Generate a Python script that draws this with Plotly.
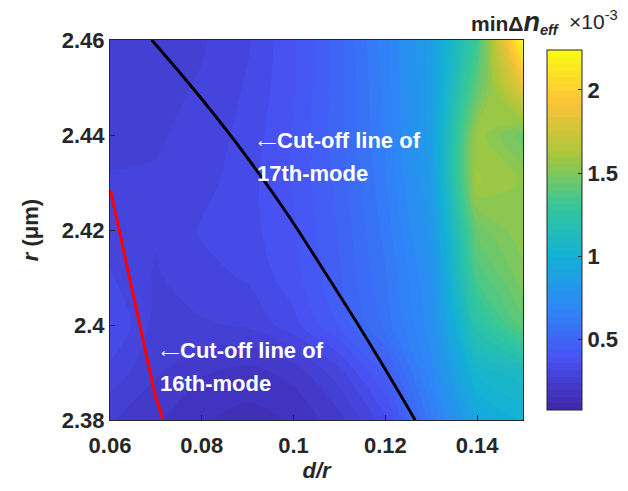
import plotly.graph_objects as go

# ---- data (values of min Δn_eff in units of 1e-3) ----
d_over_r = [0.06, 0.07, 0.08, 0.09, 0.10, 0.11, 0.12, 0.13, 0.14, 0.15]
r_um = [2.38, 2.39, 2.40, 2.41, 2.42, 2.43, 2.44, 2.45, 2.46]
min_dn = [
    [0.24, 0.20, 0.16, 0.14, 0.16, 0.22, 0.34, 0.62, 0.92, 1.00],  # 2.38
    [0.30, 0.24, 0.20, 0.18, 0.21, 0.30, 0.45, 0.70, 1.05, 1.10],  # 2.39
    [0.36, 0.26, 0.27, 0.28, 0.34, 0.44, 0.57, 0.74, 1.22, 1.42],  # 2.40
    [0.32, 0.27, 0.30, 0.32, 0.38, 0.47, 0.59, 0.76, 1.36, 1.50],  # 2.41
    [0.30, 0.28, 0.32, 0.34, 0.39, 0.48, 0.61, 0.80, 1.45, 1.55],  # 2.42
    [0.28, 0.28, 0.30, 0.34, 0.40, 0.49, 0.63, 0.84, 1.60, 1.55],  # 2.43
    [0.26, 0.27, 0.29, 0.33, 0.40, 0.50, 0.64, 0.86, 1.58, 1.45],  # 2.44
    [0.25, 0.26, 0.28, 0.32, 0.39, 0.50, 0.65, 0.86, 1.42, 1.85],  # 2.45
    [0.25, 0.25, 0.27, 0.31, 0.39, 0.50, 0.66, 0.86, 1.32, 2.24],  # 2.46
]

cut17_x = [0.0691, 0.0898, 0.1102, 0.1265]
cut17_y = [2.46, 2.4354, 2.406, 2.38]
cut16_x = [0.0601, 0.0698, 0.0716]
cut16_y = [2.4284, 2.3853, 2.38]

x_ticks = [0.06, 0.08, 0.10, 0.12, 0.14]
x_ticktext = ["0.06", "0.08", "0.1", "0.12", "0.14"]
y_ticks = [2.38, 2.40, 2.42, 2.44, 2.46]
y_ticktext = ["2.38", "2.4", "2.42", "2.44", "2.46"]
cb_ticks = [0.5, 1.0, 1.5, 2.0]
cb_ticktext = ["0.5", "1", "1.5", "2"]

parula = [
    [0.0, "#3e26a8"],
    [0.143, "#4852f4"],
    [0.286, "#2e87f7"],
    [0.429, "#12b1d6"],
    [0.571, "#37c897"],
    [0.714, "#abc739"],
    [0.857, "#fec338"],
    [1.0, "#f9fb15"],
]

FONT = "Liberation Sans, Arial, sans-serif"
DARK = "#262626"
ZMIN, ZMAX = 0.075, 2.24

# page has an 8px body margin: figure is 620x475, plot area at page x 110..523, y 40..420
PW = 413.0
FIG_W, FIG_H = 620, 475

fig = go.Figure()
fig.add_trace(go.Contour(
    x=d_over_r, y=r_um, z=min_dn,
    colorscale=parula, zauto=False, zmin=ZMIN, zmax=ZMAX,
    contours=dict(coloring="fill", start=ZMIN, end=ZMAX, size=0.04, showlines=False),
    line=dict(width=0),
    colorbar=dict(
        x=(537 - 110) / PW, xanchor="left", xref="paper",
        y=0.5, yanchor="middle", len=1.0, lenmode="fraction",
        thickness=35, outlinewidth=1, outlinecolor=DARK,
        tickvals=cb_ticks, ticktext=cb_ticktext,
        ticks="inside", ticklen=4, tickcolor=DARK,
        tickfont=dict(family=FONT, size=22, color=DARK, weight="bold"),
    ),
    showscale=True,
))
fig.add_trace(go.Scatter(x=cut17_x, y=cut17_y, mode="lines",
                         line=dict(color="black", width=3, shape="spline", smoothing=1.3),
                         showlegend=False))
fig.add_trace(go.Scatter(x=cut16_x, y=cut16_y, mode="lines",
                         line=dict(color="#ff0000", width=3),
                         showlegend=False))

def px2x(px):
    return 0.06 + (px - 110) / PW * 0.09

def py2y(py):
    return 2.46 - (py - 40) / 380 * 0.08

arrow = "<span style='font-size:13px'>⟵</span>"
labels = [
    (256, 140, arrow + "<b>Cut-off line of</b>"),
    (255, 173, "<b>17th-mode</b>"),
    (159, 350, arrow + "<b>Cut-off line of</b>"),
    (158, 383, "<b>16th-mode</b>"),
]
annotations = []
for px, py, t in labels:
    annotations.append(dict(x=px2x(px), y=py2y(py), xref="x", yref="y",
                            text=t, showarrow=False, xanchor="left", yanchor="middle",
                            font=dict(family=FONT, size=22, color="white")))

annotations.append(dict(
    x=(562 - 110) / PW, y=(420 - 22) / 380, xref="paper", yref="paper",
    text="<b>minΔ<i><span style='font-size:27px'>n</span><sub>eff</sub></i></b>",
    showarrow=False, xanchor="right", yanchor="middle",
    font=dict(family=FONT, size=21, color=DARK)))
annotations.append(dict(
    x=(567 - 110) / PW, y=(420 - 20) / 380, xref="paper", yref="paper",
    text="×10<sup>-3</sup>",
    showarrow=False, xanchor="left", yanchor="middle",
    font=dict(family=FONT, size=21, color=DARK)))

fig.update_layout(
    width=FIG_W, height=FIG_H,
    margin=dict(l=102, r=FIG_W - 102 - 413, t=32, b=FIG_H - 32 - 380, autoexpand=False),
    paper_bgcolor="white", plot_bgcolor="white",
    showlegend=False,
    annotations=annotations,
    xaxis=dict(range=[0.06, 0.15], tickvals=x_ticks, ticktext=x_ticktext,
               ticks="inside", ticklen=5, tickcolor=DARK, ticklabelstandoff=6,
               showline=True, linecolor=DARK, linewidth=1, mirror=True,
               showgrid=False, zeroline=False,
               tickfont=dict(family=FONT, size=22, color=DARK, weight="bold"),
               title=dict(text="<b><i>d/r</i></b>", standoff=8,
                          font=dict(family=FONT, size=22, color=DARK))),
    yaxis=dict(range=[2.38, 2.46], tickvals=y_ticks, ticktext=y_ticktext,
               ticks="inside", ticklen=5, tickcolor=DARK,
               showline=True, linecolor=DARK, linewidth=1, mirror=True,
               showgrid=False, zeroline=False,
               tickfont=dict(family=FONT, size=22, color=DARK, weight="bold"),
               title=dict(text="<b><i>r</i> (μm)</b>", standoff=17,
                          font=dict(family=FONT, size=22, color=DARK))),
)

fig.write_html("out.html")
